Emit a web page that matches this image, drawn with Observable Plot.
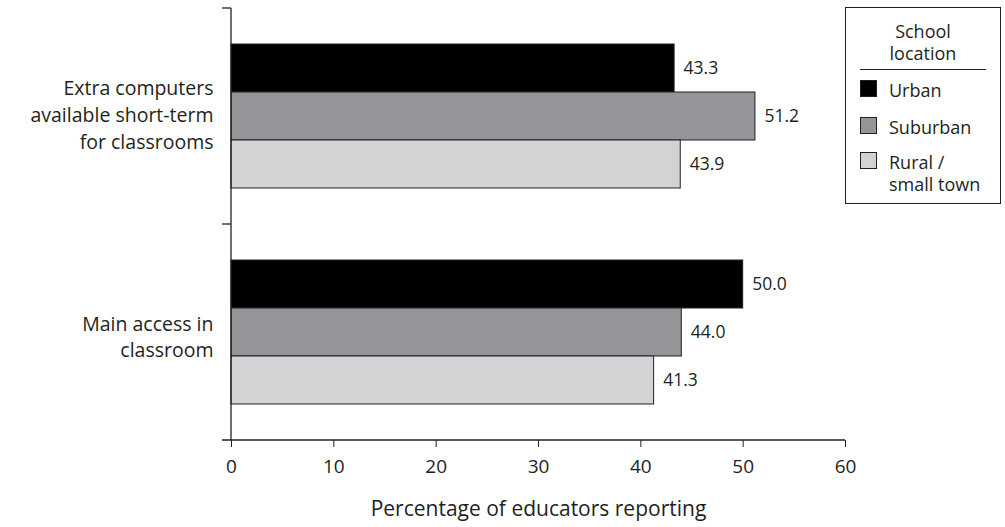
<!DOCTYPE html>
<html>
<head>
<meta charset="utf-8">
<script src="https://cdn.jsdelivr.net/npm/d3@7"></script>
<script src="https://cdn.jsdelivr.net/npm/@observablehq/plot@0.6"></script>
<style>
  html, body { margin: 0; padding: 0; background: #fff; }
  body { width: 1005px; height: 527px; position: relative; overflow: hidden; font-family: "Open Sans", "Noto Sans", sans-serif; color: #231f20; }
  #chart { position: absolute; left: 0; top: 0; }
  #legend { position: absolute; left: 845px; top: 7px; width: 156px; height: 197px; box-sizing: border-box; border: 1px solid #231f20; background: #fff; }
  #legend .title { position: absolute; left: 0; right: 0; top: 12px; text-align: center; font-size: 18px; line-height: 22px; }
  #legend .sep { position: absolute; left: 14px; width: 126px; top: 61px; border-top: 1px solid #231f20; }
  #legend .item { position: absolute; left: 14px; font-size: 18px; line-height: 22px; }
  #legend .sw { position: absolute; left: 0; top: 0; width: 17px; height: 17px; box-sizing: border-box; border: 1px solid #231f20; }
  #legend .lbl { position: absolute; left: 29px; top: -1px; white-space: nowrap; }
</style>
</head>
<body>
<div id="chart"></div>
<div id="legend"></div>
<script>
const categories = ["Extra computers available short-term for classrooms", "Main access in classroom"];
const categoryLabels = ["Extra computers\navailable short-term\nfor classrooms", "Main access in\nclassroom"];
const locations = ["Urban", "Suburban", "Rural / small town"];
const locationLabels = ["Urban", "Suburban", "Rural /<br>small town"];
const colors = ["#000000", "#939598", "#d1d3d4"];
const urban = [43.3, 50.0];
const suburban = [51.2, 44.0];
const rural = [43.9, 41.3];
const xTicks = [0, 10, 20, 30, 40, 50, 60];
const xLabel = "Percentage of educators reporting";

const series = [urban, suburban, rural];
const rows = [];
categories.forEach((c, i) => {
  locations.forEach((l, j) => rows.push({category: c, location: l, value: series[j][i]}));
});
const labelRows = categories.map((c, i) => ({category: c, label: categoryLabels[i]}));

const labelOpts = {fy: "category", text: "label", frameAnchor: "left", dx: -18, textAnchor: "end", lineHeight: 1.37, fontSize: 19.5, fill: "#231f20"};

const plot = Plot.plot({
  width: 1005,
  height: 527,
  marginLeft: 231,
  marginRight: 160,
  marginTop: 8,
  marginBottom: 87,
  style: {fontFamily: "'Open Sans', 'Noto Sans', sans-serif", color: "#231f20", background: "transparent"},
  x: {domain: [0, 60], ticks: xTicks, tickSize: 7, tickPadding: 12, tickFormat: d => String(d), label: xLabel, labelAnchor: "center", labelOffset: 75, labelArrow: "none"},
  fy: {domain: categories, padding: 0, axis: null},
  y: {domain: locations, paddingInner: 0, paddingOuter: 0.75, axis: null},
  color: {domain: locations, range: colors},
  marks: [
    Plot.barX(rows, {x: "value", y: "location", fy: "category", fill: "location", stroke: "#231f20", strokeWidth: 1}),
    Plot.text(rows, {x: "value", y: "location", fy: "category", text: d => d.value.toFixed(1), textAnchor: "start", dx: 9, fontSize: 17.5, fill: "#231f20"}),
    Plot.text(labelRows.slice(0, 1), {...labelOpts, dy: -3}),
    Plot.text(labelRows.slice(1), {...labelOpts, dy: 3})
  ]
});

document.getElementById("chart").appendChild(plot);

// font sizes for axis parts
const svg = d3.select(plot);
svg.selectAll('[aria-label="x-axis tick label"]').attr("font-size", 19);
svg.selectAll('[aria-label="x-axis label"]').attr("font-size", 21);
svg.selectAll('[aria-label="x-axis tick"]').attr("stroke", "#231f20");

// axis lines from scales
const xs = plot.scale("x"), fys = plot.scale("fy");
const x0 = xs.apply(0), x60 = xs.apply(60);
const topY = fys.apply(categories[0]);
const bottomY = fys.apply(categories[categories.length - 1]) + fys.bandwidth;
const g = svg.append("g").attr("stroke", "#231f20").attr("stroke-width", 1.3);
g.append("line").attr("x1", x0).attr("x2", x0).attr("y1", topY).attr("y2", bottomY);
g.append("line").attr("x1", x0 - 9).attr("x2", x60).attr("y1", bottomY).attr("y2", bottomY);
categories.forEach(c => {
  const y = fys.apply(c);
  g.append("line").attr("x1", x0 - 9).attr("x2", x0).attr("y1", y).attr("y2", y);
});

// legend
const legend = d3.select("#legend");
legend.append("div").attr("class", "title").html("School<br>location");
legend.append("div").attr("class", "sep");
const itemTops = [72, 109, 144];
locations.forEach((l, i) => {
  const it = legend.append("div").attr("class", "item").style("top", itemTops[i] + "px");
  it.append("div").attr("class", "sw").style("background", colors[i]);
  it.append("div").attr("class", "lbl").html(locationLabels[i]);
});
</script>
</body>
</html>
